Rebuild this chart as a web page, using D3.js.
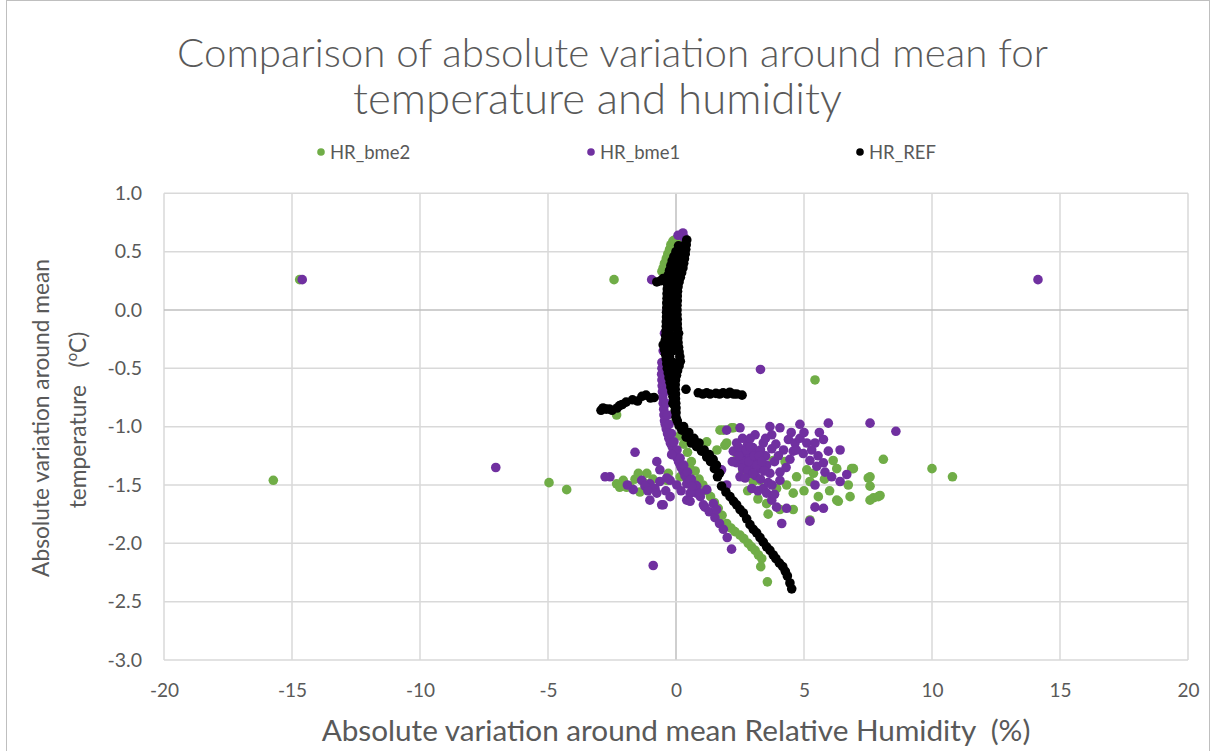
<!DOCTYPE html>
<html>
<head>
<meta charset="utf-8">
<script src="https://cdn.jsdelivr.net/npm/d3@7"></script>
<style>
  html, body { margin: 0; padding: 0; background: #ffffff; }
  svg { display: block; }
  text { font-family: Lato, "Open Sans", "DejaVu Sans", sans-serif; fill: #595959; }
</style>
</head>
<body>
<svg id="chart" width="1213" height="751"></svg>
<script>
// ---------------- DATA ----------------
const titleLines = ["Comparison of absolute variation around mean for", "temperature and humidity"];
const xAxisTitle = "Absolute variation around mean Relative Humidity  (%)";
const yAxisTitleLine1 = "Absolute variation around mean";
const yAxisTitleLine2 = "temperature   (";
const seriesNames = ["HR_bme2", "HR_bme1", "HR_REF"];
const seriesColors = ["#70ad47", "#7030a0", "#000000"];
const xTicks = [-20, -15, -10, -5, 0, 5, 10, 15, 20];
const yTicks = [-3.0, -2.5, -2.0, -1.5, -1.0, -0.5, 0.0, 0.5, 1.0];
const xDomain = [-20, 20];
const yDomain = [-3, 1];

// HR_bme2 (green): [RH variation %, temperature variation °C]
const hrBme2 = [
  [-14.7,0.26],[-15.73,-1.46],[-2.42,0.26],[-4.96,-1.48],[-4.27,-1.54],[5.43,-0.6],[10.0,-1.36],[10.8,-1.43],
  [3.57,-2.33],[8.1,-1.28],[-2.32,-0.9],
  [-0.55,0.33],[-0.5,0.36],[-0.45,0.4],[-0.38,0.44],[-0.32,0.48],[-0.25,0.52],[-0.2,0.56],[-0.12,0.59],
  [-0.05,0.6],[0.05,0.61],[0.15,0.6],
  [-0.2,0.2],[-0.25,0.0],[-0.3,-0.2],[-0.3,-0.4],[-0.25,-0.6],[-0.15,-0.8],[0.0,-0.95],[0.15,-1.08],
  [0.3,-1.15],[0.45,-1.22],[0.6,-1.3],[0.75,-1.38],[0.9,-1.45],[1.05,-1.5],[1.2,-1.55],[1.35,-1.6],
  [1.5,-1.65],[1.65,-1.7],[1.8,-1.76],[1.98,-1.83],[2.15,-1.87],[2.3,-1.9],[2.5,-1.93],[2.65,-1.96],
  [2.82,-2.0],[2.95,-2.03],[3.09,-2.06],[3.22,-2.1],[3.35,-2.13],[3.31,-2.2],
  [-2.32,-1.49],[-2.06,-1.46],[-1.8,-1.51],[-1.47,-1.4],[-1.14,-1.4],[-1.41,-1.56],[-1.93,-1.52],
  [-1.6,-1.45],[-0.3,-1.4],[0.16,-1.43],[0.55,-1.36],[-0.36,-1.46],[-0.9,-1.45],[-1.25,-1.48],[-2.2,-1.52],
  [1.2,-1.13],[1.72,-1.03],[1.85,-1.03],[2.17,-1.01],[2.24,-1.01],[1.91,-1.16],[1.98,-1.14],[1.6,-1.2],
  [3.8,-1.29],[4.26,-1.3],[4.71,-1.43],[5.11,-1.37],[5.37,-1.4],[5.23,-1.47],[6.14,-1.29],[6.28,-1.36],
  [6.86,-1.36],[6.93,-1.36],[6.73,-1.5],[6.8,-1.6],[6.28,-1.63],[6.34,-1.64],[5.56,-1.6],[4.58,-1.57],
  [4.58,-1.71],[5.23,-1.8],[7.51,-1.44],[7.58,-1.51],[7.71,-1.61],[7.97,-1.59],[7.58,-1.43],[7.58,-1.63],
  [7.9,-1.6],[3.93,-1.53],[4.32,-1.5],[3.54,-1.66],[4.06,-1.71],[3.28,-1.46],[3.02,-1.47],[2.6,-1.4],
  [2.4,-1.25],[2.8,-1.55],[3.2,-1.62],[3.6,-1.75],[5.8,-1.45],[6.0,-1.55],[5.0,-1.55]
];

// HR_bme1 (purple)
const hrBme1 = [
  [-14.6,0.26],[-7.04,-1.35],[14.14,0.26],[3.3,-0.51],[-0.89,-2.19],[8.59,-1.04],[7.58,-0.97],[-0.95,0.26],
  [0.27,0.66],[0.32,0.62],[0.08,0.64],
  [0.2,0.5],[0.0,0.35],[-0.2,0.2],[-0.35,0.0],[-0.45,-0.2],[-0.5,-0.35],
  [-0.55,-0.45],[-0.55,-0.5],[-0.56,-0.55],[-0.55,-0.6],[-0.54,-0.65],[-0.53,-0.7],[-0.52,-0.75],
  [-0.5,-0.8],[-0.48,-0.85],[-0.47,-0.9],[-0.45,-0.95],[-0.42,-0.98],[-0.38,-1.02],[-0.33,-1.06],
  [-0.28,-1.1],[-0.22,-1.14],[-0.15,-1.17],[-0.1,-1.2],[-0.05,-1.23],[0.02,-1.26],[0.1,-1.3],
  [0.15,-1.32],[0.2,-1.35],[0.28,-1.38],[0.35,-1.42],[0.42,-1.44],[0.5,-1.47],[0.65,-1.52],[0.8,-1.57],
  [0.95,-1.6],[1.13,-1.69],[1.3,-1.73],[1.52,-1.78],[1.7,-1.83],[1.85,-1.88],[2.0,-1.95],[2.17,-2.05],
  [-0.45,-0.5],[-0.44,-0.6],[-0.42,-0.7],[-0.38,-0.8],[-0.33,-0.9],[-0.27,-0.98],[-0.18,-1.06],
  [-0.08,-1.13],[0.04,-1.2],[0.16,-1.27],[0.3,-1.33],[0.45,-1.39],[0.6,-1.45],[0.75,-1.5],
  [-2.58,-1.43],[-2.77,-1.43],[-1.6,-1.22],[-0.75,-1.3],[-0.63,-1.37],[-1.67,-1.54],[-1.02,-1.49],
  [-0.82,-1.53],[-0.63,-1.47],[-0.23,-1.46],[0.03,-1.5],[-1.02,-1.63],[-0.56,-1.67],[-0.23,-1.6],
  [0.42,-1.63],[0.55,-1.57],[0.81,-1.51],[1.2,-1.54],[1.46,-1.66],[1.59,-1.71],[1.78,-1.37],[-1.34,-1.46],
  [-1.21,-1.51],[-0.17,-1.24],[-0.36,-1.44],[0.42,-1.49],[0.55,-1.46],[0.61,-1.51],[0.94,-1.57],
  [0.55,-1.64],[1.07,-1.67],[1.98,-1.5],[-0.5,-1.67],[-0.75,-1.57],[-1.1,-1.55],[-1.9,-1.5],[-0.4,-1.55],
  [0.2,-1.55],
  [1.98,-1.03],[2.5,-1.01],[3.09,-1.07],[3.67,-1.0],[3.74,-1.07],[4.06,-1.01],[4.84,-0.98],[5.95,-0.97],
  [2.37,-1.14],[2.63,-1.2],[2.89,-1.24],[3.15,-1.23],[3.41,-1.14],[3.74,-1.19],[2.37,-1.31],[2.7,-1.34],
  [3.02,-1.31],[3.28,-1.36],[3.54,-1.33],[2.5,-1.43],[2.89,-1.4],[3.67,-1.4],[4.06,-1.39],[4.06,-1.46],
  [2.96,-1.53],[3.41,-1.53],[3.54,-1.57],[3.74,-1.63],[3.93,-1.69],[4.32,-1.7],[4.13,-1.83],[4.39,-1.11],
  [4.65,-1.14],[4.84,-1.1],[5.11,-1.14],[5.43,-1.14],[5.76,-1.11],[5.95,-1.21],[6.41,-1.2],[4.58,-1.21],
  [4.97,-1.23],[5.23,-1.29],[5.5,-1.34],[5.76,-1.31],[5.82,-1.39],[6.08,-1.43],[6.41,-1.47],[6.67,-1.41],
  [5.43,-1.5],[5.43,-1.69],[5.76,-1.7],[5.23,-1.81],[1.72,-1.37],[2.24,-1.21],[2.7,-1.25],[2.8,-1.15],
  [3.0,-1.18],[3.2,-1.28],[3.3,-1.2],[2.55,-1.28],[2.95,-1.35],[3.1,-1.42],[2.6,-1.1],[2.2,-1.3],
  [3.5,-1.25],[3.85,-1.3],[4.2,-1.2],[5.0,-1.05],[5.3,-1.2],[4.45,-1.28],[3.3,-1.45],[3.6,-1.48],
  [2.45,-1.18],[2.55,-1.22],[2.65,-1.3],[2.75,-1.2],[2.85,-1.3],[2.9,-1.17],[3.05,-1.25],[3.15,-1.33],
  [3.25,-1.25],[2.6,-1.36],[2.8,-1.38],[3.0,-1.4],[2.7,-1.44],[3.35,-1.3],[2.45,-1.25],[3.45,-1.38],
  [3.9,-1.15],[4.0,-1.25],[4.5,-1.05],[4.7,-1.2],[5.55,-1.25],[5.6,-1.05],[3.5,-1.1],[2.9,-1.1],
  [4.3,-1.35],[3.75,-1.5],[3.2,-1.55],[3.85,-1.58]
];

// HR_REF (black)
const hrRef = [
  [0.42,0.6],[0.4,0.56],[0.38,0.52],[0.36,0.48],[0.33,0.44],[0.3,0.4],[0.27,0.36],[0.22,0.32],[0.17,0.28],
  [0.12,0.24],[0.08,0.2],[0.2,0.5],[0.1,0.4],[0.0,0.3],[0.25,0.45],[0.3,0.55],[0.15,0.45],[0.05,0.35],
  [0.1,0.55],[0.0,0.5],[-0.08,0.46],[-0.15,0.42],[-0.2,0.38],[-0.25,0.34],[-0.3,0.3],[-0.5,0.27],
  [-0.6,0.25],[-0.75,0.24],[-0.1,0.3],[-0.05,0.25],
  [0.06,0.16],[0.05,0.12],[0.05,0.08],[0.04,0.04],[0.04,0.0],[0.04,-0.04],[0.05,-0.08],[0.05,-0.12],
  [0.06,-0.16],[0.06,-0.2],[0.07,-0.24],[0.08,-0.28],[0.1,-0.32],[0.12,-0.36],[0.15,-0.4],[0.17,-0.44],
  [0.12,-0.48],[0.06,-0.52],[0.02,-0.56],[-0.02,-0.6],[-0.03,-0.64],[-0.03,-0.68],[-0.02,-0.72],
  [-0.02,-0.76],[-0.01,-0.8],[0.0,-0.84],[0.0,-0.88],
  [-0.32,0.26],[-0.33,0.22],[-0.34,0.18],[-0.35,0.14],[-0.35,0.1],[-0.36,0.06],[-0.36,0.02],[-0.37,-0.02],
  [-0.37,-0.06],[-0.38,-0.1],[-0.38,-0.14],[-0.39,-0.18],[-0.4,-0.22],[-0.42,-0.26],[-0.5,-0.3],
  [-0.45,-0.34],[-0.41,-0.38],[-0.38,-0.42],[-0.36,-0.46],[-0.34,-0.5],[-0.3,-0.54],[-0.27,-0.58],
  [-0.23,-0.62],[-0.2,-0.66],[-0.16,-0.7],[-0.12,-0.74],[-0.08,-0.78],[-0.05,-0.82],[-0.03,-0.86],[0.0,-0.92],
  [-0.15,0.15],[-0.15,0.05],[-0.16,-0.05],[-0.17,-0.15],[-0.18,-0.25],[-0.15,-0.35],[-0.12,-0.45],[-0.12,-0.55],
  [-0.22,0.2],[-0.23,0.1],[-0.24,0.0],[-0.25,-0.1],[-0.26,-0.2],[-0.27,-0.3],[-0.25,-0.4],[-0.22,-0.5],
  [-0.18,-0.6],[-0.1,-0.65],[-0.12,-0.8],[-0.08,-0.1],[-0.06,0.1],[-0.07,-0.3],[-0.05,-0.5],[0.1,-0.2],
  [-2.93,-0.86],[-2.85,-0.84],[-2.73,-0.85],[-2.6,-0.85],[-2.5,-0.86],[-2.3,-0.84],[-2.2,-0.82],[-2.1,-0.81],
  [-1.95,-0.79],[-1.7,-0.77],[-1.5,-0.78],[-1.33,-0.74],[-1.17,-0.73],[-1.0,-0.755],[-0.86,-0.75],
  [0.39,-0.68],[0.87,-0.71],[1.05,-0.72],[1.2,-0.71],[1.33,-0.72],[1.56,-0.715],[1.7,-0.72],[1.84,-0.71],
  [2.0,-0.72],[2.1,-0.705],[2.25,-0.72],[2.37,-0.72],[2.58,-0.73],
  [0.05,-0.95],[0.12,-0.99],[0.23,-1.03],[0.4,-1.09],[0.6,-1.14],[0.8,-1.17],[1.0,-1.21],[1.2,-1.26],
  [1.35,-1.3],[1.5,-1.36],[1.62,-1.43],[1.78,-1.51],[1.95,-1.56],[2.11,-1.6],[2.25,-1.64],[2.37,-1.67],
  [2.5,-1.71],[2.63,-1.74],[2.76,-1.79],[2.89,-1.84],[3.02,-1.88],[3.15,-1.91],[3.28,-1.95],[3.41,-1.99],
  [3.54,-2.03],[3.67,-2.06],[3.8,-2.1],[3.9,-2.13],[4.04,-2.17],[4.17,-2.2],[4.27,-2.24],[4.35,-2.28],
  [4.45,-2.34],[4.52,-2.39],
  [0.3,-1.0],[0.5,-1.05],[0.7,-1.1],[0.9,-1.14],[1.1,-1.2],[1.3,-1.24],[1.45,-1.28],[1.58,-1.33],[1.7,-1.4]
];

const allSeries = [hrBme2, hrBme1, hrRef];

// ---------------- DRAW ----------------
const svg = d3.select("#chart");
const W = 1213, H = 751;
const plot = { left: 164, right: 1188, top: 193.3, bottom: 660 };

svg.append("rect").attr("x", 0).attr("y", 0).attr("width", W).attr("height", H).attr("fill", "#ffffff");
svg.append("rect").attr("x", 6.5).attr("y", 0.5).attr("width", 1203).attr("height", 780)
  .attr("fill", "none").attr("stroke", "#bfbfbf").attr("stroke-width", 1);

const x = d3.scaleLinear().domain(xDomain).range([plot.left, plot.right]);
const y = d3.scaleLinear().domain(yDomain).range([plot.bottom, plot.top]);

// gridlines
const grid = svg.append("g");
grid.selectAll("line.v").data(xTicks).join("line")
  .attr("x1", d => x(d)).attr("x2", d => x(d))
  .attr("y1", plot.top).attr("y2", plot.bottom)
  .attr("stroke", d => d === 0 ? "#bfbfbf" : "#d9d9d9").attr("stroke-width", 1.5);
grid.selectAll("line.h").data(yTicks).join("line")
  .attr("x1", plot.left).attr("x2", plot.right)
  .attr("y1", d => y(d)).attr("y2", d => y(d))
  .attr("stroke", d => d === 0 ? "#bfbfbf" : "#d9d9d9").attr("stroke-width", 1.5);

// axes (labels only)
const xAxis = d3.axisBottom(x).tickValues(xTicks).tickSize(0).tickPadding(24).tickFormat(d => String(d));
const gx = svg.append("g").attr("transform", `translate(0,${plot.bottom})`).call(xAxis);
gx.select(".domain").remove();
gx.selectAll("text").attr("font-size", 19).attr("fill", "#595959").style("font-family", "Lato, 'Open Sans', sans-serif");

const yAxis = d3.axisLeft(y).tickValues(yTicks).tickSize(0).tickPadding(22).tickFormat(d => d.toFixed(1));
const gy = svg.append("g").attr("transform", `translate(${plot.left},0)`).call(yAxis);
gy.select(".domain").remove();
gy.selectAll("text").attr("font-size", 19.5).attr("fill", "#595959").style("font-family", "Lato, 'Open Sans', sans-serif");

// points
const pts = svg.append("g");
allSeries.forEach((s, i) => {
  pts.append("g").selectAll("circle").data(s).join("circle")
    .attr("cx", d => x(d[0])).attr("cy", d => y(d[1])).attr("r", 4.8)
    .attr("fill", seriesColors[i]);
});

function fit(sel, target) {
  const w = sel.node().getComputedTextLength();
  const fs = parseFloat(sel.attr("font-size"));
  sel.attr("font-size", fs * target / w);
}

// title
const t1 = svg.append("text").attr("x", 612.5).attr("y", 67).attr("text-anchor", "middle")
  .attr("font-size", 36).attr("font-weight", 300).text(titleLines[0]);
fit(t1, 871);
const t2 = svg.append("text").attr("x", 597.5).attr("y", 114).attr("text-anchor", "middle")
  .attr("font-size", 36).attr("font-weight", 300).text(titleLines[1]);
fit(t2, 489);

// legend
const legendPos = [{cx: 321, tx: 330}, {cx: 591, tx: 600}, {cx: 860, tx: 869}];
seriesNames.forEach((n, i) => {
  svg.append("circle").attr("cx", legendPos[i].cx).attr("cy", 152).attr("r", 3.8).attr("fill", seriesColors[i]);
  svg.append("text").attr("x", legendPos[i].tx).attr("y", 158.5).attr("font-size", 18.5).text(n);
});

// x axis title
const xt = svg.append("text").attr("x", 676).attr("y", 741).attr("text-anchor", "middle")
  .attr("font-size", 26).style("white-space", "pre").text(xAxisTitle);
fit(xt, 709);

// y axis title
const yt1 = svg.append("text").attr("transform", "translate(49,418) rotate(-90)")
  .attr("text-anchor", "middle").attr("font-size", 26).text(yAxisTitleLine1);
fit(yt1, 318);
const yfs = parseFloat(yt1.attr("font-size"));
const yt2 = svg.append("text").attr("transform", "translate(86,420) rotate(-90)")
  .attr("text-anchor", "middle").attr("font-size", yfs).style("white-space", "pre");
yt2.append("tspan").text(yAxisTitleLine2);
yt2.append("tspan").attr("font-size", yfs * 0.65).attr("dy", -yfs * 0.38).text("o");
yt2.append("tspan").attr("dy", yfs * 0.38).text("C)");
</script>
</body>
</html>
